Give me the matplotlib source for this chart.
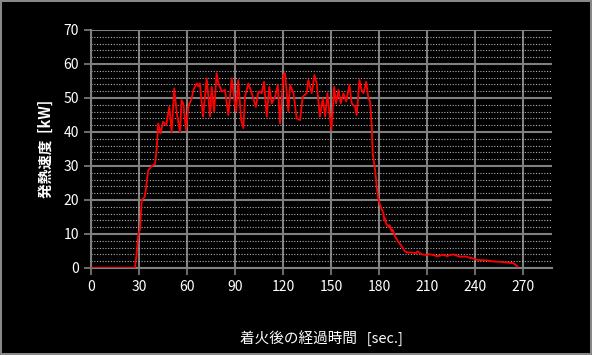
import matplotlib
matplotlib.use("Agg")
import matplotlib.pyplot as plt
from matplotlib.ticker import MultipleLocator

plt.rcParams['font.family'] = ['Noto Sans CJK JP', 'DejaVu Sans']

# heat release rate
time_s = [0, 10, 20, 27.5, 28.5, 29.6, 30.6, 31.7, 33.7, 35.8, 38, 40, 41,
          42, 43.5, 45, 47, 48.9, 50.4, 52, 53.5, 55.6, 56.6, 57.7, 59.4,
          60.8, 62.9, 64, 66, 67, 68, 70, 72.3, 74.4, 75.4, 76.9, 78.5, 79.6,
          81.7, 83.7, 85.8, 87.9, 90.6, 92, 93.8, 95.2, 96.2, 98.3, 100.4,
          103, 104.6, 106.7, 108.1, 109.8, 111.4, 112.9, 115, 116.7, 118.1,
          120.2, 121.2, 123.3, 124.4, 126.5, 128.5, 130.6, 132.3, 134.8,
          135.8, 137.9, 139.6, 141, 143, 144.8, 146.3, 147.7, 149, 150.2,
          151.9, 153.1, 154.6, 156, 157.7, 159.5, 161.4, 162.9, 165, 166,
          167.7, 169, 170.2, 171.9, 173.3, 174.4, 175.4, 176, 177.5, 178.5,
          179.6, 181, 182.7, 183.3, 183.7, 184.5, 185.8, 186.5, 187.9, 188.6,
          190, 192, 194.2, 196.2, 198, 201.4, 203, 204, 205.6, 207, 209.8,
          211, 213.9, 216, 218, 220, 222.3, 224.4, 226.5, 228, 230.6, 234,
          236, 238.9, 241, 245, 248, 251.5, 256, 259.8, 264, 266.5]
hrr_kw = [0, 0, 0, 0, 4, 10.2, 11.2, 20, 21, 28.8, 30, 30.6, 34.7,
          42.5, 39.6, 43, 42, 47.4, 40, 52.8, 45.9, 40, 49.4, 48.4, 40.6,
          47.4, 49.9, 52.4, 54.3, 53.4, 54.3, 44.5, 55.8, 44.5, 53.3, 46,
          57.3, 54.3, 51.9, 52.4, 45, 55.8, 46, 55.3, 43.5, 41.1, 50.4, 54.3,
          51.4, 47.4, 51.9, 51.4, 54.8, 44.5, 53.3, 48.4, 50.4, 53.8, 42.5,
          56.8, 57.3, 46, 53.8, 51.4, 44, 43.5, 50.4, 51.4, 55.3, 51.4, 56.8,
          54.3, 44.5, 49.9, 44.5, 51.4, 45.5, 40.6, 53.3, 48.4, 52.4, 48.4,
          51.4, 49, 53.8, 48.4, 47.4, 45, 55.3, 52.4, 51.4, 54.8, 49.9, 49,
          41.6, 33.7, 28.8, 23.9, 20, 18, 16.1, 13.9, 14.6, 12.9, 12.1, 12.6,
          10.7, 11.2, 9.2, 7.7, 6.3, 4.8, 4.6, 4.5, 4.3, 4.9, 4.3, 4.0, 3.8,
          4.1, 3.8, 3.5, 3.6, 3.9, 3.5, 3.8, 4.0, 3.7, 3.3, 3.4, 3.1, 2.8,
          2.4, 2.3, 2.2, 1.9, 1.8, 1.6, 1.4, 0.4]

x_ticks = list(range(0, 271, 30))
y_ticks = list(range(0, 71, 10))

fig = plt.figure(figsize=(5.92, 3.55), dpi=100, facecolor='black',
                 edgecolor='#888888', linewidth=1.5)
ax = fig.add_axes([0.1537, 0.2451, 0.7787, 0.6704])
ax.set_facecolor('black')

ax.plot(time_s, hrr_kw, color='#ff0000', lw=1.3, zorder=3)

ax.set_xlim(0, 288)
ax.set_ylim(0, 70)
ax.set_xticks(x_ticks)
ax.set_yticks(y_ticks)
ax.yaxis.set_minor_locator(MultipleLocator(2))

ax.grid(which='major', color='#808080', lw=1.5)
ax.grid(which='minor', axis='y', color='#b0b0b0', lw=0.8, ls=(0, (1, 1.5)))
ax.tick_params(which='major', colors='#808080', labelcolor='white',
               labelsize=10, length=5, width=1.2, direction='out')
ax.tick_params(which='minor', length=0)
ax.set_axisbelow(True)

for side in ['top', 'right']:
    ax.spines[side].set_visible(False)
for side in ['left', 'bottom']:
    ax.spines[side].set_color('#808080')
    ax.spines[side].set_linewidth(1.5)

ax.set_ylabel('発熱速度  [kW]', color='white', fontsize=10.5,
              fontweight='bold', labelpad=7)
ax.set_xlabel('着火後の経過時間   [sec.]', color='white', fontsize=10.5,
              labelpad=26)

fig.savefig('out.png', dpi=100, facecolor='black', edgecolor='#888888')
